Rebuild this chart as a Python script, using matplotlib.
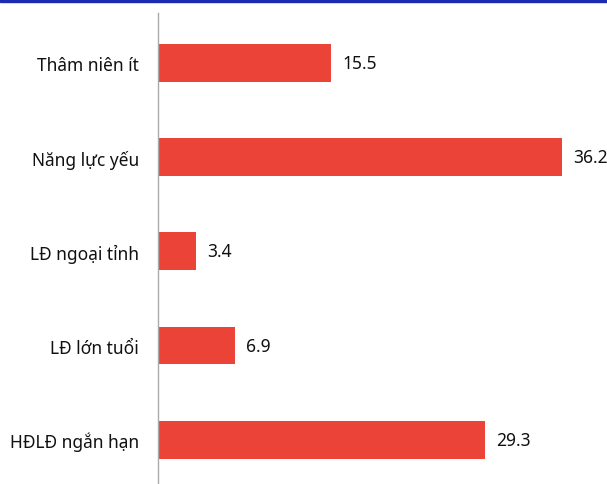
import matplotlib.pyplot as plt
from matplotlib.patches import Rectangle

categories = ["Thâm niên ít", "Năng lực yếu", "LĐ ngoại tỉnh", "LĐ lớn tuổi", "HĐLĐ ngắn hạn"]
values = [15.5, 36.2, 3.4, 6.9, 29.3]

plt.rcParams['font.family'] = ['Noto Sans', 'DejaVu Sans']

fig = plt.figure(figsize=(6.07, 4.85), dpi=100)
# thin blue strip along the top edge
fig.patches.append(Rectangle((0, 1 - 2.5 / 485), 1, 2.5 / 485, transform=fig.transFigure,
                             color='#1c2bb0', zorder=0))

ax = fig.add_axes([158.5 / 607, 0, 1 - 158.5 / 607, 1 - 14 / 485])
y = range(len(categories))
bars = ax.barh(y, values, height=0.4, color='#ec4338')

for rect, v in zip(bars, values):
    ax.text(rect.get_width() + 0.95, rect.get_y() + rect.get_height() / 2, f'{v}',
            va='center', ha='left', fontsize=12.5, color='#111111')

ax.set_yticks(list(y))
ax.set_yticklabels(categories, fontsize=12.5, color='#111111')
ax.tick_params(axis='y', length=0, pad=14)
ax.set_xticks([])
ax.set_xlim(0, 40.2)
ax.set_ylim(4.47, -0.53)
for side in ['top', 'right', 'bottom']:
    ax.spines[side].set_visible(False)
ax.spines['left'].set_color('#aaaaaa')
ax.spines['left'].set_linewidth(1)

fig.savefig('out.png', dpi=100)
